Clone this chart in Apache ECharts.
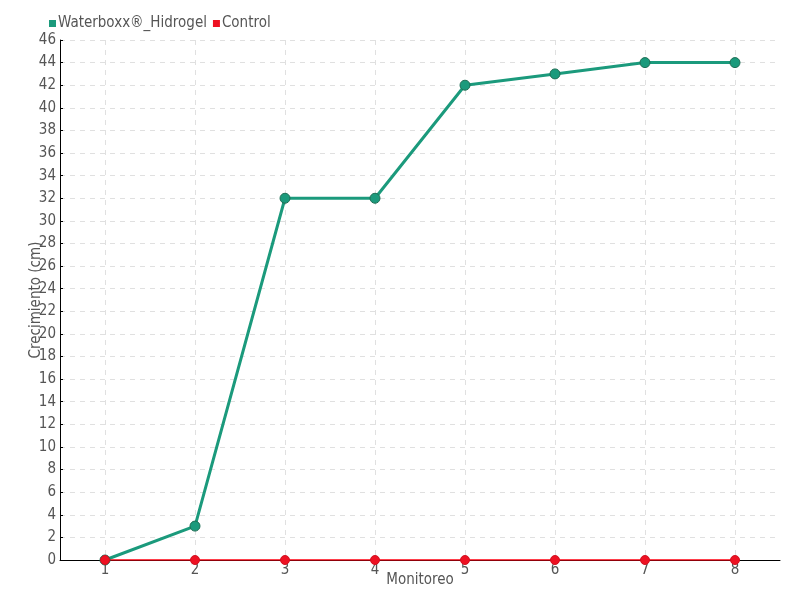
<!DOCTYPE html>
<html><head><meta charset="utf-8">
<script src="https://cdn.jsdelivr.net/npm/echarts@6/dist/echarts.min.js"></script>
<style>html,body{margin:0;padding:0;background:#fff}#c{width:800px;height:600px}</style>
</head><body><div id="c"></div>
<script>
const categories = ['1','2','3','4','5','6','7','8'];
const waterboxx = [0, 3, 32, 32, 42, 43, 44, 44];
const control = [0, 0, 0, 0, 0, 0, 0, 0];
const seriesNames = ['Waterboxx®_Hidrogel', 'Control'];
const FONT = '"Liberation Sans Narrow", "DejaVu Sans Condensed", sans-serif';
const chart = echarts.init(document.getElementById('c'));
chart.setOption({
  animation: false,
  textStyle: {fontFamily: FONT},
  legend: {
    left: 44, top: 11, itemWidth: 7, itemHeight: 7, itemGap: 6,
    icon: 'rect',
    itemStyle: {borderWidth: 0},
    textStyle: {fontFamily: FONT, fontSize: 15, color: '#555', padding: [0,0,0,-3]},
    data: seriesNames
  },
  grid: {left: 60, right: 20, top: 40, bottom: 40, containLabel: false, outerBoundsMode: 'none'},
  xAxis: {
    type: 'category', data: categories, boundaryGap: true,
    name: 'Monitoreo', nameLocation: 'middle', nameGap: 13,
    nameMoveOverlap: false,
    nameTextStyle: {fontFamily: FONT, fontSize: 15, color: '#555'},
    axisLine: {lineStyle: {color: '#000', width: 1}},
    axisTick: {show: false, alignWithLabel: true},
    axisLabel: {fontFamily: FONT, fontSize: 15, color: '#555', margin: 3},
    splitLine: {show: true, alignWithLabel: true, lineStyle: {type: [5, 5], color: '#e0e0e0'}}
  },
  yAxis: {
    type: 'value', min: 0, max: 46, interval: 2,
    name: 'Crecimiento (cm)', nameLocation: 'middle', nameGap: 16,
    nameMoveOverlap: false,
    nameTextStyle: {fontFamily: FONT, fontSize: 15, color: '#555'},
    axisLine: {show: true, lineStyle: {color: '#000', width: 1}},
    axisTick: {show: true, inside: true, length: 3, lineStyle: {color: '#000'}},
    axisLabel: {fontFamily: FONT, fontSize: 15, color: '#555', margin: 4},
    splitLine: {show: true, lineStyle: {type: [5, 5], color: '#e0e0e0'}}
  },
  series: [
    {
      name: seriesNames[0], type: 'line', data: waterboxx,
      symbol: 'circle', symbolSize: 10,
      itemStyle: {color: '#1b9a7c', borderColor: '#1f6e55', borderWidth: 1},
      lineStyle: {color: '#1b9a7c', width: 3}
    },
    {
      name: seriesNames[1], type: 'line', data: control,
      symbol: 'circle', symbolSize: 9,
      itemStyle: {color: '#ee1122', borderColor: '#d01020', borderWidth: 1},
      lineStyle: {color: '#ff0011', width: 1.5},
      z: 3
    }
  ]
});
</script></body></html>
